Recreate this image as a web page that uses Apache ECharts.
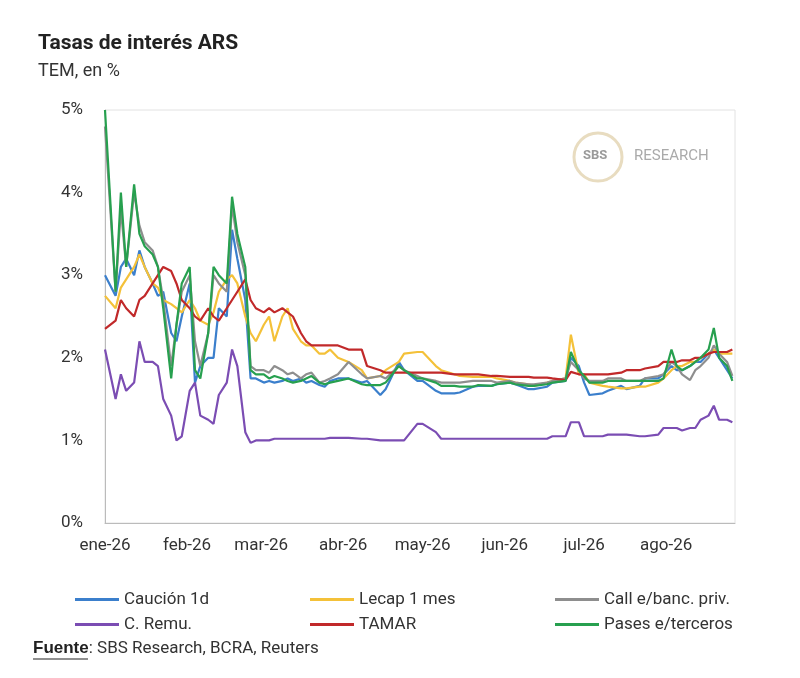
<!DOCTYPE html>
<html><head><meta charset="utf-8">
<script src="https://cdn.jsdelivr.net/npm/echarts@6/dist/echarts.min.js"></script>
<style>html,body{margin:0;padding:0;background:#fff}#c{width:800px;height:678px}</style>
</head><body><div id="c"></div>
<script>
const dates = [
 "01-01","01-05","01-07","01-09","01-12","01-14","01-16","01-19","01-21","01-23","01-26","01-28","01-30",
 "02-02","02-04","02-06","02-09","02-11","02-13","02-16","02-18","02-20","02-23","02-25","02-27",
 "03-02","03-04","03-06","03-09","03-11","03-13","03-16","03-18","03-20","03-23","03-25","03-27","03-30",
 "04-03","04-08","04-10","04-15","04-17","04-22","04-24","04-29",
 "05-01","05-06","05-08","05-13","05-15","05-20","05-22","05-27","05-29",
 "06-03","06-05","06-10","06-12","06-17","06-19","06-24","06-26","06-29",
 "07-01","07-03","07-08","07-10","07-15","07-17","07-22","07-24","07-29","07-31",
 "08-03","08-05","08-07","08-10","08-12","08-14","08-17","08-19","08-21","08-24","08-26"];
const caucion = [3.0,2.75,3.1,3.2,3.0,3.3,3.1,2.9,2.75,2.8,2.3,2.2,2.5,
 2.9,1.7,1.9,2.0,2.0,2.6,2.5,3.55,3.2,2.7,1.75,1.75,
 1.7,1.72,1.7,1.72,1.75,1.72,1.75,1.7,1.72,1.67,1.65,1.72,1.75,
 1.75,1.7,1.72,1.55,1.62,1.95,1.85,1.72,
 1.72,1.6,1.57,1.57,1.58,1.65,1.66,1.66,1.68,
 1.7,1.68,1.62,1.62,1.65,1.7,1.72,2.0,1.9,
 1.7,1.55,1.57,1.6,1.66,1.62,1.66,1.75,1.75,1.8,
 1.9,1.85,1.85,1.9,1.95,1.95,2.05,2.1,2.0,1.85,1.75];
const lecap = [2.75,2.6,2.85,2.95,3.1,3.25,3.1,2.9,2.85,2.7,2.65,2.6,2.55,
 2.7,2.6,2.45,2.4,2.55,2.8,2.95,3.0,2.9,2.5,2.3,2.2,
 2.4,2.5,2.2,2.5,2.6,2.35,2.2,2.15,2.15,2.05,2.05,2.1,2.0,
 1.95,1.85,1.75,1.78,1.85,1.95,2.05,2.07,
 2.07,1.9,1.85,1.8,1.78,1.77,1.77,1.77,1.75,
 1.72,1.7,1.68,1.66,1.7,1.72,1.75,2.28,1.8,
 1.8,1.7,1.66,1.65,1.63,1.63,1.65,1.65,1.7,1.75,
 1.85,1.9,1.9,1.95,1.95,2.0,2.05,2.1,2.05,2.05,2.05];
const call = [4.8,2.8,3.8,3.1,4.0,3.6,3.4,3.3,3.1,2.7,1.9,2.4,2.8,
 3.0,2.2,1.9,2.3,3.0,2.9,2.8,3.85,3.4,3.0,1.9,1.85,
 1.85,1.82,1.9,1.85,1.8,1.82,1.75,1.8,1.82,1.7,1.72,1.75,1.8,
 1.95,1.8,1.75,1.78,1.75,1.9,1.85,1.78,
 1.75,1.72,1.7,1.7,1.7,1.72,1.72,1.72,1.7,
 1.72,1.7,1.68,1.68,1.7,1.72,1.75,1.95,1.85,
 1.75,1.72,1.72,1.75,1.75,1.72,1.72,1.75,1.78,1.8,
 1.95,1.9,1.8,1.73,1.85,1.9,2.0,2.15,2.05,1.95,1.78];
const remu = [2.1,1.5,1.8,1.6,1.7,2.2,1.95,1.95,1.9,1.5,1.3,1.0,1.05,
 1.6,1.7,1.3,1.25,1.2,1.55,1.7,2.1,1.9,1.1,0.97,1.0,
 1.0,1.0,1.02,1.02,1.02,1.02,1.02,1.02,1.02,1.02,1.02,1.03,1.03,
 1.03,1.02,1.02,1.0,1.0,1.0,1.0,1.2,
 1.2,1.1,1.02,1.02,1.02,1.02,1.02,1.02,1.02,
 1.02,1.02,1.02,1.02,1.02,1.05,1.05,1.22,1.22,
 1.05,1.05,1.05,1.07,1.07,1.07,1.05,1.05,1.07,1.15,
 1.15,1.15,1.12,1.15,1.15,1.25,1.3,1.42,1.25,1.25,1.22];
const tamar = [2.35,2.45,2.7,2.6,2.5,2.7,2.75,2.9,3.0,3.1,3.05,2.9,2.7,
 2.6,2.5,2.45,2.6,2.5,2.45,2.6,2.7,2.8,2.95,2.7,2.6,
 2.55,2.6,2.55,2.6,2.55,2.5,2.3,2.2,2.15,2.15,2.15,2.15,2.15,
 2.1,2.1,1.9,1.85,1.82,1.82,1.82,1.82,
 1.82,1.82,1.82,1.8,1.8,1.8,1.8,1.78,1.78,
 1.77,1.77,1.77,1.76,1.76,1.75,1.73,1.83,1.8,
 1.8,1.8,1.8,1.8,1.82,1.85,1.85,1.87,1.9,1.95,
 1.95,1.95,1.97,1.97,2.0,2.0,2.05,2.07,2.07,2.07,2.1];
const pases = [5.0,2.8,4.0,3.1,4.1,3.5,3.35,3.25,3.1,2.6,1.75,2.4,2.9,
 3.1,1.85,1.75,2.3,3.1,3.0,2.9,3.95,3.5,3.1,1.85,1.8,
 1.8,1.75,1.78,1.75,1.72,1.7,1.72,1.75,1.78,1.7,1.68,1.7,1.72,
 1.75,1.68,1.67,1.67,1.7,1.9,1.85,1.75,
 1.75,1.7,1.66,1.66,1.65,1.65,1.67,1.66,1.68,
 1.7,1.68,1.66,1.66,1.68,1.7,1.72,2.07,1.85,
 1.78,1.7,1.7,1.72,1.72,1.72,1.72,1.72,1.72,1.75,
 2.1,1.9,1.85,1.9,1.95,2.0,2.1,2.36,2.0,1.9,1.72];
const months = ["ene","feb","mar","abr","may","jun","jul","ago","sep"];
const yTicks = [0,1,2,3,4,5];

const mk = (name, vals, color) => ({
  name, type:'line', showSymbol:false, color,
  lineStyle:{width:2.2, color},
  data: vals.map((v,i)=>['2026-'+dates[i], v])
});
const series = [
  mk('Caución 1d', caucion, '#3b7fcc'),
  mk('Lecap 1 mes', lecap, '#f4c139'),
  mk('Call e/banc. priv.', call, '#8e8e8e'),
  mk('TAMAR', tamar, '#c1292a'),
  mk('C. Remu.', remu, '#7b4db3'),
  mk('Pases e/terceros', pases, '#27a04f')
];
const legendBase = {orient:'vertical', itemWidth:44, itemHeight:3, itemGap:8, icon:'rect',
  textStyle:{fontSize:17, color:'#333', fontFamily:'Roboto'}};
const chart = echarts.init(document.getElementById('c'));
chart.setOption({
  animation:false,
  textStyle:{fontFamily:'Roboto'},
  title:{text:'Tasas de interés ARS', left:33, top:28, textStyle:{fontSize:21, fontWeight:'bold', color:'#222'},
    subtext:'TEM, en %', subtextStyle:{fontSize:18, color:'#333'}, itemGap:8},
  grid:{left:105, right:65, top:110, bottom:155, show:true, borderColor:'#e2e2e2', borderWidth:1},
  xAxis:{type:'time', min:'2026-01-01', max:'2026-08-27',
    axisLine:{lineStyle:{color:'#bbb'}}, axisTick:{show:false}, splitLine:{show:false},
    axisLabel:{fontSize:17, color:'#333', margin:14, showMaxLabel:false,
      formatter:(v)=>{const d=new Date(v); return months[d.getMonth()]+'-26';}}},
  yAxis:{type:'value', min:yTicks[0], max:yTicks[yTicks.length-1], interval:1,
    axisLine:{show:true, lineStyle:{color:'#bbb'}}, splitLine:{show:false},
    axisLabel:{fontSize:17, color:'#333', margin:22, formatter:'{value}%'}},
  legend:[
    Object.assign({left:70, top:586, data:['Caución 1d','C. Remu.']}, legendBase),
    Object.assign({left:305, top:586, data:['Lecap 1 mes','TAMAR']}, legendBase),
    Object.assign({left:550, top:586, data:['Call e/banc. priv.','Pases e/terceros']}, legendBase)
  ],
  graphic:[
    {type:'circle', shape:{cx:598, cy:157, r:24}, style:{fill:'#fff', stroke:'#e8dcc0', lineWidth:3}},
    {type:'text', left:583, top:149, style:{text:'SBS', font:'bold 13px Roboto', fill:'#9a9a9a'}},
    {type:'text', left:634, top:149, style:{text:'RESEARCH', font:'15px Roboto', fill:'#aaa'}},
    {type:'text', left:33, top:640, style:{
      text:'{b|Fuente}: SBS Research, BCRA, Reuters',
      rich:{b:{fontWeight:'bold', fontSize:17, fill:'#222', textDecoration:'underline'}},
      font:'17px Roboto', fill:'#333'}},
    {type:'line', shape:{x1:33, y1:659, x2:88, y2:659}, style:{stroke:'#222', lineWidth:1.2}}
  ],
  series
});
</script></body></html>
